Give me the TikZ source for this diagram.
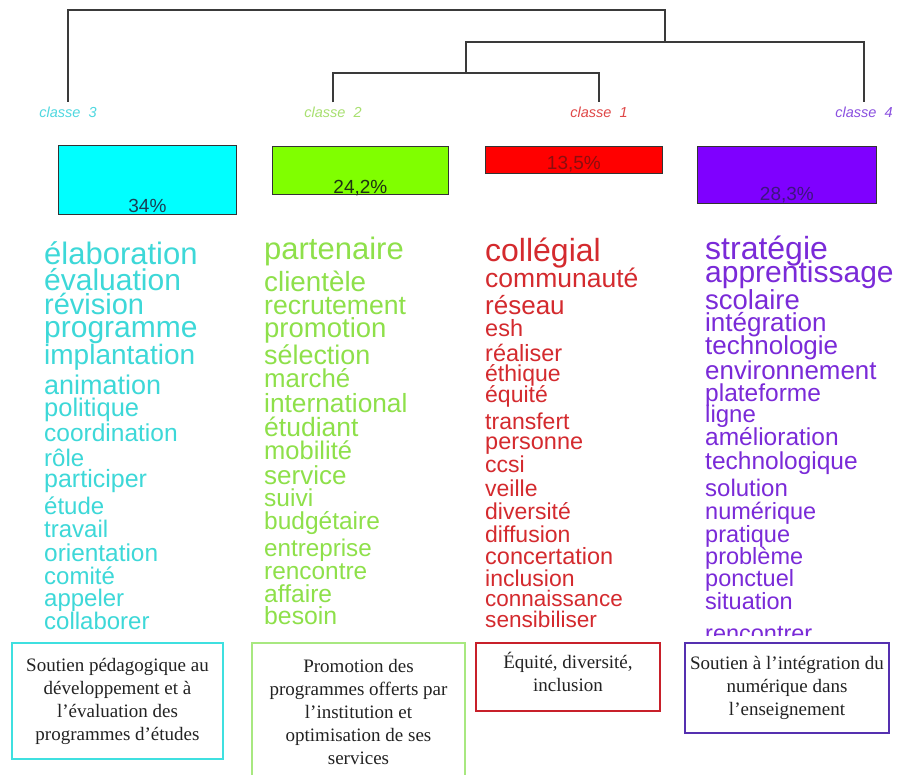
\documentclass[tikz,border=0pt]{standalone}
\usepackage{fontspec}
\setmainfont{Liberation Serif}
\setsansfont{Liberation Sans}
\definecolor{dendgray}{HTML}{3A3A3A}
\definecolor{boxedge}{HTML}{333333}
\definecolor{cyanfill}{HTML}{00FFFF}
\definecolor{greenfill}{HTML}{80FF00}
\definecolor{redfill}{HTML}{FF0000}
\definecolor{purplefill}{HTML}{7F00FF}
\definecolor{c3pct}{HTML}{1A3F55}
\definecolor{c2pct}{HTML}{1E3312}
\definecolor{c1pct}{HTML}{8B0E0E}
\definecolor{c4pct}{HTML}{3E1480}
\definecolor{c3text}{HTML}{3DD8D8}
\definecolor{c2text}{HTML}{8EE04A}
\definecolor{c1text}{HTML}{D42A2E}
\definecolor{c4text}{HTML}{7A2AD8}
\definecolor{c3lab}{HTML}{4FD8E0}
\definecolor{c2lab}{HTML}{A8E070}
\definecolor{c1lab}{HTML}{E04848}
\definecolor{c4lab}{HTML}{8A50E0}
\definecolor{b3edge}{HTML}{3FE0E0}
\definecolor{b2edge}{HTML}{A8E880}
\definecolor{b1edge}{HTML}{C8202A}
\definecolor{b4edge}{HTML}{5530B0}
\definecolor{textdark}{HTML}{222222}
\begin{document}
\begin{tikzpicture}[x=1pt,y=-1pt,
  dend/.style={draw=dendgray,line width=1.4pt},
  clabel/.style={font=\sffamily\itshape\fontsize{14.5}{14.5}\selectfont,inner sep=0pt,outer ysep=5pt,anchor=base},
  pbox/.style={draw=boxedge,line width=0.8pt,inner xsep=0pt,inner ysep=0pt,anchor=north west,font=\sffamily\fontsize{19}{19}\selectfont},
  word/.style={anchor=mid west,inner sep=0pt},
  tbox/.style={line width=2pt,anchor=north west,align=center,inner sep=0pt,font=\fontsize{19}{23}\selectfont,text=textdark}]
\useasboundingbox[fill=white] (0,0) rectangle (898,775);

% class labels
\node[clabel,text=c3lab] (l3) at (68,118) {classe\ \ 3};
\node[clabel,text=c2lab] (l2) at (333,118) {classe\ \ 2};
\node[clabel,text=c1lab] (l1) at (599,118) {classe\ \ 1};
\node[clabel,text=c4lab] (l4) at (864,118) {classe\ \ 4};

% dendrogram
\coordinate (j21) at (466,73);
\coordinate (j214) at (665,42);
\coordinate (jtop) at (68,10);
\draw[dend] (l2.north) |- (j21) -| (l1.north);
\draw[dend] (j21) |- (j214) -| (l4.north);
\draw[dend] (j214) |- (jtop) -- (l3.north);

% percentage boxes
\node[pbox,fill=cyanfill,minimum width=178pt,text height=67pt,text depth=2pt,text=c3pct] (p3) at (58,145) {34\%};
\node[pbox,fill=greenfill,minimum width=176pt,text height=47pt,text depth=1pt,text=c2pct] (p2) at (272,146) {24,2\%};
\node[pbox,fill=redfill,minimum width=177pt,text height=23pt,text depth=4pt,text=c1pct] (p1) at (485,146) {13,5\%};
\node[pbox,fill=purplefill,minimum width=179pt,text height=54.5pt,text depth=2.5pt,text=c4pct] (p4) at (697,146) {28,3\%};

% word lists
\begin{scope}[yshift=-7pt]
\clip (0,221) rectangle (898,629);
\foreach \w/\s/\y [count=\i] in {élaboration/31/255,évaluation/30/281,révision/29/305,programme/30/328,implantation/28/355,animation/27/385,politique/25.5/407,coordination/24.5/432,rôle/24/457,participer/25/478,étude/24/505,travail/24/528,orientation/24.4/552,comité/24/575,appeler/24/597,collaborer/24/620}
  \node[word,text=c3text,font=\sffamily\fontsize{\s}{\s}\selectfont] (wa\i) at (44,\y) {\w};
\foreach \w/\s/\y [count=\i] in {partenaire/31/250,clientèle/27.8/282,recrutement/26.6/305,promotion/27.5/328,sélection/26.9/355,marché/25.8/378,international/26.3/403,étudiant/26.5/427,mobilité/25.5/450,service/26/475,suivi/24.5/497,budgétaire/24.5/520,entreprise/24.2/547,rencontre/24.4/570,affaire/24.6/593,besoin/24.8/615}
  \node[word,text=c2text,font=\sffamily\fontsize{\s}{\s}\selectfont] (wb\i) at (264,\y) {\w};
\foreach \w/\s/\y [count=\i] in {collégial/32/252,communauté/26.5/278,réseau/26/305,esh/23.5/327,réaliser/23.5/352,éthique/23/372,équité/23/393,transfert/23/420,personne/23.5/440,ccsi/23/463,veille/23/487,diversité/23/510,diffusion/23/533,concertation/23.5/555,inclusion/23/577,connaissance/22.5/597,sensibiliser/22.6/618}
  \node[word,text=c1text,font=\sffamily\fontsize{\s}{\s}\selectfont] (wc\i) at (485,\y) {\w};
\foreach \w/\s/\y [count=\i] in {stratégie/32/250,apprentissage/30/273,scolaire/27.5/300,intégration/26/322,technologie/26/345,environnement/25.9/370,plateforme/24.5/392,ligne/24/413,amélioration/24.5/436,technologique/24.5/460,solution/24/487,numérique/23.5/510,pratique/23.5/533,problème/23.5/555,ponctuel/23.5/577,situation/23.5/600,rencontrer/23.5/632}
  \node[word,text=c4text,font=\sffamily\fontsize{\s}{\s}\selectfont] (wd\i) at (705,\y) {\w};
\end{scope}

% description boxes
\node[tbox,draw=b3edge,minimum width=211pt,minimum height=116pt] (d3) at (11,642) {Soutien pédagogique au\\développement et à\\l’évaluation des\\programmes d’études};
\node[tbox,draw=b2edge,minimum width=213pt,minimum height=138pt] (d2) at (251,642) {Promotion des\\programmes offerts par\\l’institution et\\optimisation de ses\\services};
\node[tbox,draw=b1edge,minimum width=184pt,minimum height=68pt,text depth=10pt] (d1) at (475,642) {Équité, diversité,\\inclusion};
\node[tbox,draw=b4edge,minimum width=204pt,minimum height=90pt] (d4) at (684,642) {Soutien à l’intégration du\\numérique dans\\l’enseignement};
\end{tikzpicture}
\end{document}
